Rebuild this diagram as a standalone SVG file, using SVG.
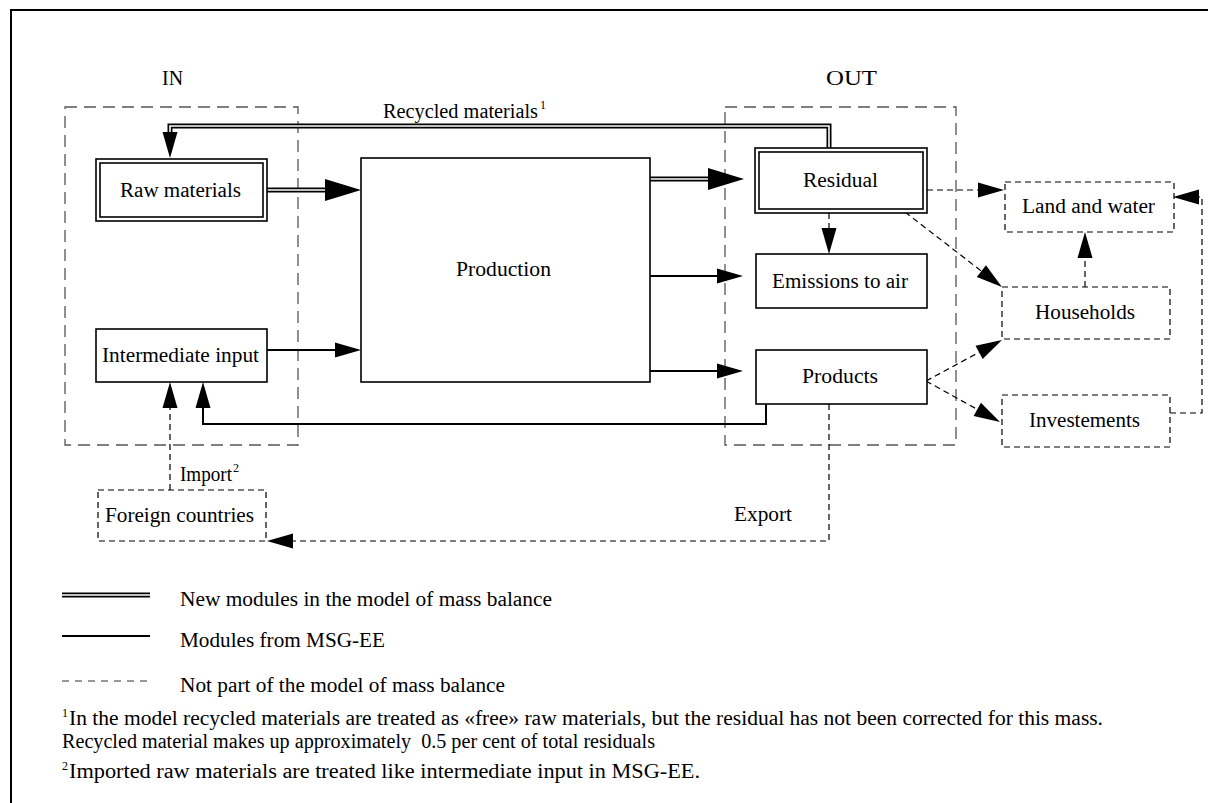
<svg xmlns="http://www.w3.org/2000/svg" width="1208" height="803" viewBox="0 0 1208 803" font-family="'Liberation Serif', 'Times New Roman', 'DejaVu Serif', serif">
<style>
text{font-family:'Liberation Serif','Times New Roman','DejaVu Serif',serif;font-size:20px;fill:#000}
.c{text-anchor:middle}
.sup{font-size:12px}
.box{fill:#fff;stroke:#000;stroke-width:1.6}
.dbox{fill:none;stroke:#000;stroke-width:1.2;stroke-dasharray:6 4}
.grp{fill:none;stroke:#555;stroke-width:1.3;stroke-dasharray:12 7}
.solid{fill:none;stroke:#000;stroke-width:2}
.dash{fill:none;stroke:#000;stroke-width:1.2;stroke-dasharray:6 4}
.dblo{fill:none;stroke:#000;stroke-width:5;stroke-linejoin:miter}
.dbli{fill:none;stroke:#fff;stroke-width:1.6;stroke-linejoin:miter}
</style>
<defs>
<marker id="big" markerUnits="userSpaceOnUse" markerWidth="40" markerHeight="24" refX="0" refY="0" orient="auto" overflow="visible"><path d="M0,-11 L36,0 L0,11 z" fill="#000"/></marker>
<marker id="mid" markerUnits="userSpaceOnUse" markerWidth="30" markerHeight="18" refX="0" refY="0" orient="auto" overflow="visible"><path d="M0,-7.5 L26,0 L0,7.5 z" fill="#000"/></marker>
</defs>
<rect width="1208" height="803" fill="#fff"/>
<path d="M11,803 V10 H1208" fill="none" stroke="#000" stroke-width="2"/>

<g id="group-in">
<rect class="grp" x="65" y="107" width="233" height="338"/>
<text class="c" x="172.5" y="85" textLength="21" lengthAdjust="spacingAndGlyphs">IN</text>
</g>
<g id="group-out">
<rect class="grp" x="725" y="107" width="231" height="338"/>
<text class="c" x="851.5" y="85" textLength="51" lengthAdjust="spacingAndGlyphs">OUT</text>
</g>

<g id="connectors">
<path class="dblo" d="M829,148 V126 H170 V132" marker-end="url(#mid)"/>
<path class="dbli" d="M829,148 V126 H170 V132"/>
<path class="dblo" d="M267,190 H325" marker-end="url(#big)"/>
<path class="dbli" d="M267,190 H325"/>
<path class="solid" d="M267,350 H335" marker-end="url(#mid)"/>
<path class="dblo" d="M650,179 H708" marker-end="url(#big)"/>
<path class="dbli" d="M650,179 H708"/>
<path class="solid" d="M650,276 H717" marker-end="url(#mid)"/>
<path class="solid" d="M650,371 H717" marker-end="url(#mid)"/>
<path class="dash" d="M829,213 V228" marker-end="url(#mid)"/>
<path class="solid" d="M766,404 V424 H203 V408" marker-end="url(#mid)"/>
<path class="dash" d="M170,490 V408" marker-end="url(#mid)"/>
<path class="dash" d="M829,404 V541 H293" marker-end="url(#mid)"/>
<path class="dash" d="M927,190 H978" marker-end="url(#mid)"/>
<path class="dash" d="M905,212 L981.4,271.1" marker-end="url(#mid)"/>
<path class="dash" d="M926,381 L979.1,352.3" marker-end="url(#mid)"/>
<path class="dash" d="M926,381 L977.3,409.4" marker-end="url(#mid)"/>
<path class="dash" d="M1085,287 V258" marker-end="url(#mid)"/>
<path class="dash" d="M1170,413 H1202 V197 H1199" marker-end="url(#mid)"/>
<text x="383" y="118" textLength="155" lengthAdjust="spacingAndGlyphs">Recycled materials</text>
<text class="sup" x="540" y="109">1</text>
<text x="180" y="481" textLength="52" lengthAdjust="spacingAndGlyphs">Import</text>
<text class="sup" x="233" y="472">2</text>
<text class="c" x="763" y="521" textLength="58" lengthAdjust="spacingAndGlyphs">Export</text>
</g>

<g id="raw-materials">
<rect class="box" x="96" y="159" width="171" height="62"/>
<rect class="box" x="100" y="163" width="163" height="54"/>
<text class="c" x="180.5" y="197" textLength="121" lengthAdjust="spacingAndGlyphs">Raw materials</text>
</g>
<g id="intermediate-input">
<rect class="box" x="96" y="329" width="171" height="53"/>
<text class="c" x="180.5" y="362" textLength="157" lengthAdjust="spacingAndGlyphs">Intermediate input</text>
</g>
<g id="production">
<rect class="box" x="361" y="158" width="289" height="224"/>
<text class="c" x="503.5" y="276" textLength="95" lengthAdjust="spacingAndGlyphs">Production</text>
</g>
<g id="residual">
<rect class="box" x="755" y="148" width="172" height="65"/>
<rect class="box" x="759" y="152" width="164" height="57"/>
<text class="c" x="840.5" y="187" textLength="75" lengthAdjust="spacingAndGlyphs">Residual</text>
</g>
<g id="emissions">
<rect class="box" x="756" y="254" width="171" height="54"/>
<text class="c" x="840" y="288" textLength="136" lengthAdjust="spacingAndGlyphs">Emissions to air</text>
</g>
<g id="products">
<rect class="box" x="756" y="350" width="171" height="54"/>
<text class="c" x="840" y="383" textLength="76" lengthAdjust="spacingAndGlyphs">Products</text>
</g>
<g id="land-water">
<rect class="dbox" x="1005" y="182" width="169" height="50"/>
<text class="c" x="1088.5" y="213" textLength="133" lengthAdjust="spacingAndGlyphs">Land and water</text>
</g>
<g id="households">
<rect class="dbox" x="1002" y="287" width="168" height="52"/>
<text class="c" x="1085" y="319" textLength="100" lengthAdjust="spacingAndGlyphs">Households</text>
</g>
<g id="investements">
<rect class="dbox" x="1002" y="395" width="168" height="52"/>
<text class="c" x="1084.5" y="427" textLength="111" lengthAdjust="spacingAndGlyphs">Investements</text>
</g>
<g id="foreign-countries">
<rect class="dbox" x="98" y="490" width="168" height="51"/>
<text class="c" x="179.5" y="522" textLength="149" lengthAdjust="spacingAndGlyphs">Foreign countries</text>
</g>

<g id="legend">
<line class="dblo" x1="62" y1="595" x2="150" y2="595"/>
<line class="dbli" x1="62" y1="595" x2="150" y2="595"/>
<line class="solid" x1="62" y1="636" x2="150" y2="636"/>
<line x1="62" y1="681" x2="150" y2="681" stroke="#333" stroke-width="1.2" stroke-dasharray="7 6"/>
<text x="180" y="606" textLength="372" lengthAdjust="spacingAndGlyphs">New modules in the model of mass balance</text>
<text x="180" y="647" textLength="205" lengthAdjust="spacingAndGlyphs">Modules from MSG-EE</text>
<text x="180" y="692" textLength="325" lengthAdjust="spacingAndGlyphs">Not part of the model of mass balance</text>
<text class="sup" x="62" y="717">1</text>
<text x="69" y="725" textLength="1034" lengthAdjust="spacingAndGlyphs">In the model recycled materials are treated as «free» raw materials, but the residual has not been corrected for this mass.</text>
<text x="62" y="748" textLength="593" lengthAdjust="spacingAndGlyphs" style="white-space:pre">Recycled material makes up approximately  0.5 per cent of total residuals</text>
<text class="sup" x="62" y="770">2</text>
<text x="69" y="778" textLength="631" lengthAdjust="spacingAndGlyphs">Imported raw materials are treated like intermediate input in MSG-EE.</text>
</g>
</svg>
